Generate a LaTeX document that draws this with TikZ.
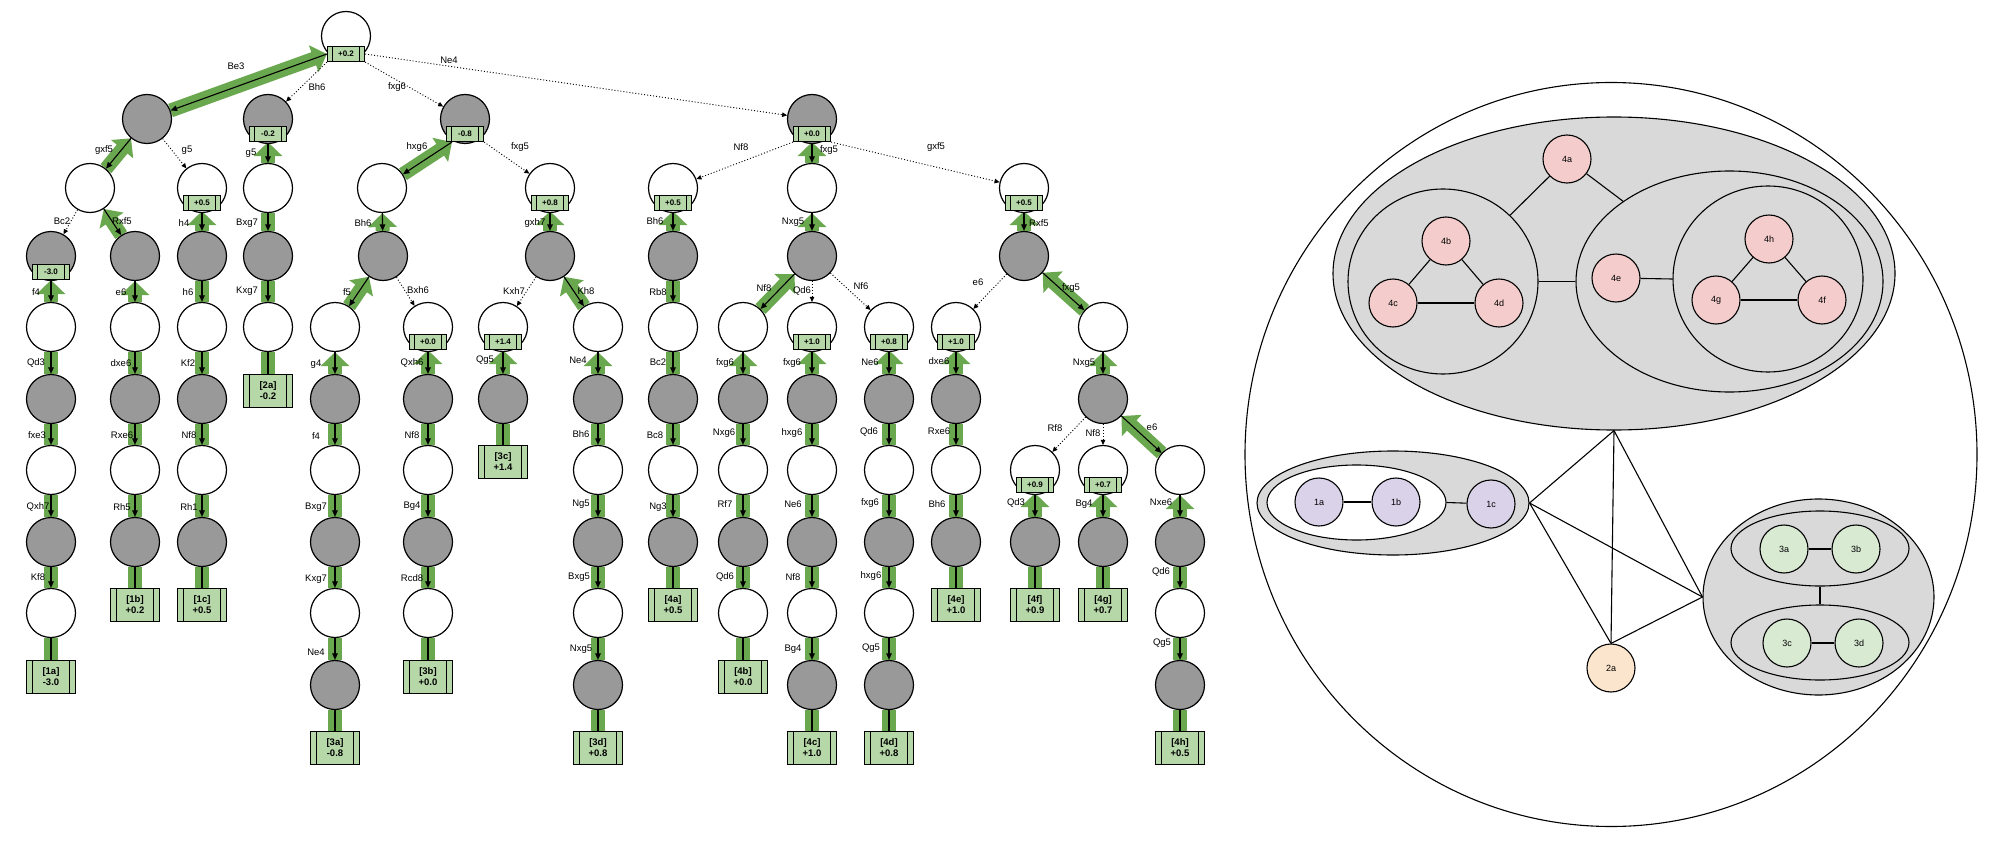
\documentclass[tikz,border=0pt]{standalone}
\usepackage{fontspec}
\setmainfont{Liberation Sans}
\usetikzlibrary{arrows.meta,shapes.geometric,calc}
\pgfdeclarelayer{bglayer}
\pgfdeclarelayer{bandlayer}
\pgfdeclarelayer{arrowlayer}
\pgfsetlayers{bglayer,bandlayer,arrowlayer,main}
\definecolor{pvgreen}{HTML}{6AA84F}
\definecolor{boxgreen}{HTML}{B6D7A8}
\definecolor{nodegray}{HTML}{999999}
\definecolor{grpgray}{HTML}{D9D9D9}
\definecolor{pinkc}{HTML}{F4CCCC}
\definecolor{purplec}{HTML}{D9D2E9}
\definecolor{peachc}{HTML}{FCE5CD}
\definecolor{greenc}{HTML}{D9EAD3}
\tikzset{
 wn/.style={circle,draw,line width=1.2pt,fill=white,minimum size=49pt,inner sep=0pt},
 gn/.style={wn,fill=nodegray},
 vb/.style={rectangle,draw,line width=1.2pt,fill=boxgreen,minimum width=37pt,minimum height=15pt,inner sep=0pt,
   font=\bfseries\fontsize{8}{9}\selectfont,
   path picture={\draw[line width=1pt] ([xshift=5pt]path picture bounding box.north west) -- ([xshift=5pt]path picture bounding box.south west)
      ([xshift=-5pt]path picture bounding box.north east) -- ([xshift=-5pt]path picture bounding box.south east);}},
 lb/.style={rectangle,draw,line width=1.2pt,fill=boxgreen,minimum width=49pt,minimum height=33pt,inner sep=0pt,align=center,
   font=\bfseries\fontsize{9.5}{11}\selectfont,
   path picture={\draw[line width=1pt] ([xshift=6pt]path picture bounding box.north west) -- ([xshift=6pt]path picture bounding box.south west)
      ([xshift=-6pt]path picture bounding box.north east) -- ([xshift=-6pt]path picture bounding box.south east);}},
 ml/.style={font=\fontsize{9.5}{11}\selectfont,inner sep=0pt},
 band/.style={draw=pvgreen,line width=14pt},
 bandh/.style={band,-{Triangle[width=28pt,length=14pt]}},
 bk/.style={draw=black,line width=1.1pt,-{Triangle[width=5.5pt,length=6.5pt]}},
 bkn/.style={draw=black,line width=1.1pt},
 dt/.style={draw=black,line width=0.9pt,dash pattern=on 1pt off 2pt,-{Triangle[width=4.5pt,length=5pt]}},
 rn/.style={circle,draw,line width=1.1pt,minimum size=48pt,inner sep=0pt,font=\fontsize{9}{10}\selectfont},
 grp/.style={ellipse,draw,line width=1.1pt,inner sep=0pt},
 gl/.style={draw,line width=1.1pt},
}
\newcommand\pvlink[2]{\begin{pgfonlayer}{bandlayer}\draw[band] (#1) -- (#2);\end{pgfonlayer}\begin{pgfonlayer}{arrowlayer}\draw[bk] (#1) -- (#2);\end{pgfonlayer}}
\newcommand\pvhead[2]{\begin{pgfonlayer}{bandlayer}\draw[bandh] (#2) -- (#1);\end{pgfonlayer}\begin{pgfonlayer}{arrowlayer}\draw[bk] (#1) -- (#2);\end{pgfonlayer}}
\newcommand\pvleaf[2]{\begin{pgfonlayer}{bandlayer}\draw[band] (#1) -- (#2);\end{pgfonlayer}\begin{pgfonlayer}{arrowlayer}\draw[bkn] (#1) -- (#2);\end{pgfonlayer}}
\newcommand\dotmove[2]{\begin{pgfonlayer}{arrowlayer}\draw[dt] (#1) -- (#2);\end{pgfonlayer}}
\newcounter{labc}
\newcommand\mlab[3]{\stepcounter{labc}\node[ml] (lab\arabic{labc}) at (#1,#2) {#3};}
\begin{document}
\begin{tikzpicture}[x=1pt,y=-1pt]
\begin{pgfonlayer}{bglayer}
\fill[white] (0,0) rectangle (2000,848);
\end{pgfonlayer}
\useasboundingbox (0,0) rectangle (2000,848);
% ---------- tree nodes ----------
\node[wn] (R) at (346,36) {};
\node[vb] (rb) at (346,54) {+0.2};
\node[gn] (A) at (147,119) {};
\node[gn] (B) at (268,119) {};  \node[vb] (bb) at (268,134) {-0.2};
\node[gn] (C) at (465,119) {};  \node[vb] (cb) at (465,134) {-0.8};
\node[gn] (D) at (812,119) {};  \node[vb] (db) at (812,134) {+0.0};
\node[wn] (A1) at (90,188) {};
\node[wn] (A2) at (202,188) {}; \node[vb] (a2b) at (202,203) {+0.5};
\node[wn] (B1) at (268,188) {};
\node[wn] (C1) at (382,188) {};
\node[wn] (C2) at (550,188) {}; \node[vb] (c2b) at (550,203) {+0.8};
\node[wn] (D1) at (673,188) {}; \node[vb] (d1b) at (673,203) {+0.5};
\node[wn] (D2) at (812,188) {};
\node[wn] (D3) at (1024,188) {}; \node[vb] (d3b) at (1024,203) {+0.5};
\node[gn] (A1a) at (51,256) {}; \node[vb] (a1ab) at (51,272) {-3.0};
\node[gn] (A1b) at (135,256) {};
\node[gn] (A2a) at (202,256) {};
\node[gn] (B1a) at (268,256) {};
\node[gn] (C1a) at (383,256) {};
\node[gn] (C2a) at (550,256) {};
\node[gn] (D1a) at (673,256) {};
\node[gn] (D2a) at (812,256) {};
\node[gn] (D3a) at (1024,256) {};
% level 4
\node[wn] (a4) at (51,327) {};
\node[wn] (b4) at (135,327) {};
\node[wn] (c4) at (202,327) {};
\node[wn] (d4) at (268,327) {};
\node[wn] (e4) at (335,327) {};
\node[wn] (f4) at (428,327) {}; \node[vb] (f4b) at (428,342) {+0.0};
\node[wn] (g4) at (503,327) {}; \node[vb] (g4b) at (503,342) {+1.4};
\node[wn] (h4) at (598,327) {};
\node[wn] (i4) at (673,327) {};
\node[wn] (j4) at (743,327) {};
\node[wn] (k4) at (812,327) {}; \node[vb] (k4b) at (812,342) {+1.0};
\node[wn] (l4) at (889,327) {}; \node[vb] (l4b) at (889,342) {+0.8};
\node[wn] (m4) at (956,327) {}; \node[vb] (m4b) at (956,342) {+1.0};
\node[wn] (n4) at (1103,327) {};
% level 5
\node[gn] (a5) at (51,399) {};
\node[gn] (b5) at (135,399) {};
\node[gn] (c5) at (202,399) {};
\node[lb] (d5) at (268,391) {[2a]\\-0.2};
\node[gn] (e5) at (335,399) {};
\node[gn] (f5) at (428,399) {};
\node[gn] (g5) at (503,399) {};
\node[gn] (h5) at (598,399) {};
\node[gn] (i5) at (673,399) {};
\node[gn] (j5) at (743,399) {};
\node[gn] (k5) at (812,399) {};
\node[gn] (l5) at (889,399) {};
\node[gn] (m5) at (956,399) {};
\node[gn] (n5) at (1103,399) {};
% level 6
\node[wn] (a6) at (51,470) {};
\node[wn] (b6) at (135,470) {};
\node[wn] (c6) at (202,470) {};
\node[wn] (e6) at (335,470) {};
\node[wn] (f6) at (428,470) {};
\node[lb] (g6) at (503,462) {[3c]\\+1.4};
\node[wn] (h6) at (598,470) {};
\node[wn] (i6) at (673,470) {};
\node[wn] (j6) at (743,470) {};
\node[wn] (k6) at (812,470) {};
\node[wn] (l6) at (889,470) {};
\node[wn] (m6) at (956,470) {};
\node[wn] (n6a) at (1035,470) {}; \node[vb] (n6ab) at (1035,485) {+0.9};
\node[wn] (n6b) at (1103,470) {}; \node[vb] (n6bb) at (1103,485) {+0.7};
\node[wn] (n6c) at (1180,470) {};
% level 7
\node[gn] (a7) at (51,542) {};
\node[gn] (b7) at (135,542) {};
\node[gn] (c7) at (202,542) {};
\node[gn] (e7) at (335,542) {};
\node[gn] (f7) at (428,542) {};
\node[gn] (h7) at (598,542) {};
\node[gn] (i7) at (673,542) {};
\node[gn] (j7) at (743,542) {};
\node[gn] (k7) at (812,542) {};
\node[gn] (l7) at (889,542) {};
\node[gn] (m7) at (956,542) {};
\node[gn] (n7a) at (1035,542) {};
\node[gn] (n7b) at (1103,542) {};
\node[gn] (n7c) at (1180,542) {};
% level 8
\node[wn] (a8) at (51,613) {};
\node[lb] (b8) at (135,605) {[1b]\\+0.2};
\node[lb] (c8) at (202,605) {[1c]\\+0.5};
\node[wn] (e8) at (335,613) {};
\node[wn] (f8) at (428,613) {};
\node[wn] (h8) at (598,613) {};
\node[lb] (i8) at (673,605) {[4a]\\+0.5};
\node[wn] (j8) at (743,613) {};
\node[wn] (k8) at (812,613) {};
\node[wn] (l8) at (889,613) {};
\node[lb] (m8) at (956,605) {[4e]\\+1.0};
\node[lb] (n8a) at (1035,605) {[4f]\\+0.9};
\node[lb] (n8b) at (1103,605) {[4g]\\+0.7};
\node[wn] (n8c) at (1180,613) {};
% level 9
\node[lb] (a9) at (51,677) {[1a]\\-3.0};
\node[gn] (e9) at (335,685) {};
\node[lb] (f9) at (428,677) {[3b]\\+0.0};
\node[gn] (h9) at (598,685) {};
\node[lb] (j9) at (743,677) {[4b]\\+0.0};
\node[gn] (k9) at (812,685) {};
\node[gn] (l9) at (889,685) {};
\node[gn] (n9c) at (1180,685) {};
% level 10
\node[lb] (e10) at (335,748) {[3a]\\-0.8};
\node[lb] (h10) at (598,748) {[3d]\\+0.8};
\node[lb] (k10) at (812,748) {[4c]\\+1.0};
\node[lb] (l10) at (889,748) {[4d]\\+0.8};
\node[lb] (n10c) at (1180,748) {[4h]\\+0.5};
% ---------- tree edges ----------
\pvhead{rb.west}{A}
\dotmove{rb.south west}{B}
\dotmove{rb.south east}{C}
\dotmove{rb.east}{D}
\pvhead{A}{A1}
\dotmove{A}{A2}
\pvhead{bb.south}{B1}
\pvhead{[xshift=6pt]cb.south west}{C1}
\dotmove{cb.south east}{C2}
\dotmove{db.south west}{D1}
\pvhead{db.south}{D2}
\dotmove{db.south east}{D3}
\dotmove{A1}{A1a}
\pvhead{A1}{A1b}
\pvhead{a2b.south}{A2a}
\pvlink{B1}{B1a}
\pvhead{C1}{C1a}
\pvhead{c2b.south}{C2a}
\pvhead{d1b.south}{D1a}
\pvhead{D2}{D2a}
\pvhead{d3b.south}{D3a}
\pvhead{a1ab.south}{a4}
\pvhead{A1b}{b4}
\pvlink{A2a}{c4}
\pvlink{B1a}{d4}
\pvhead{C1a}{e4}
\dotmove{C1a}{f4}
\dotmove{C2a}{g4}
\pvhead{C2a}{h4}
\pvlink{D1a}{i4}
\pvhead{D2a}{j4}
\dotmove{D2a}{k4}
\dotmove{D2a}{l4}
\dotmove{D3a}{m4}
\pvhead{D3a}{n4}
\pvlink{a4}{a5} \pvlink{b4}{b5} \pvlink{c4}{c5} \pvleaf{d4}{d5}
\pvhead{e4}{e5} \pvhead{f4b.south}{f5} \pvhead{g4b.south}{g5} \pvhead{h4}{h5}
\pvlink{i4}{i5} \pvhead{j4}{j5} \pvhead{k4b.south}{k5} \pvhead{l4b.south}{l5}
\pvhead{m4b.south}{m5} \pvhead{n4}{n5}
\pvlink{a5}{a6} \pvlink{b5}{b6} \pvlink{c5}{c6} \pvlink{e5}{e6} \pvlink{f5}{f6}
\pvleaf{g5}{g6} \pvlink{h5}{h6} \pvlink{i5}{i6} \pvlink{j5}{j6} \pvlink{k5}{k6}
\pvlink{l5}{l6} \pvlink{m5}{m6}
\dotmove{n5}{n6a} \dotmove{n5}{n6b} \pvhead{n5}{n6c}
\pvlink{a6}{a7} \pvlink{b6}{b7} \pvlink{c6}{c7} \pvlink{e6}{e7} \pvlink{f6}{f7}
\pvlink{h6}{h7} \pvlink{i6}{i7} \pvlink{j6}{j7} \pvlink{k6}{k7} \pvlink{l6}{l7}
\pvlink{m6}{m7}
\pvhead{n6ab.south}{n7a} \pvhead{n6bb.south}{n7b} \pvhead{n6c}{n7c}
\pvlink{a7}{a8} \pvleaf{b7}{b8} \pvleaf{c7}{c8} \pvlink{e7}{e8} \pvlink{f7}{f8}
\pvlink{h7}{h8} \pvleaf{i7}{i8} \pvlink{j7}{j8} \pvlink{k7}{k8} \pvlink{l7}{l8}
\pvleaf{m7}{m8} \pvleaf{n7a}{n8a} \pvleaf{n7b}{n8b} \pvlink{n7c}{n8c}
\pvleaf{a8}{a9} \pvlink{e8}{e9} \pvleaf{f8}{f9} \pvlink{h8}{h9} \pvleaf{j8}{j9}
\pvlink{k8}{k9} \pvlink{l8}{l9} \pvlink{n8c}{n9c}
\pvleaf{e9}{e10} \pvleaf{h9}{h10} \pvleaf{k9}{k10} \pvleaf{l9}{l10} \pvleaf{n9c}{n10c}
% ---------- move labels ----------
\mlab{236}{66}{Be3} \mlab{317}{87}{Bh6} \mlab{397}{87}{fxg6} \mlab{449}{60}{Ne4}
\mlab{104}{150}{gxf5} \mlab{187}{150}{g5} \mlab{251}{153}{g5} \mlab{417}{147}{hxg6}
\mlab{520}{147}{fxg5} \mlab{741}{147}{Nf8} \mlab{829}{150}{fxg5} \mlab{936}{147}{gxf5}
\mlab{62}{221}{Bc2} \mlab{122}{221}{Rxf5} \mlab{184}{223}{h4} \mlab{247}{223}{Bxg7}
\mlab{363}{223}{Bh6} \mlab{535}{223}{gxh7} \mlab{655}{221}{Bh6} \mlab{793}{222}{Nxg5}
\mlab{1039}{223}{Rxf5}
\mlab{36}{292}{f4} \mlab{121}{292}{e6} \mlab{188}{292}{h6} \mlab{247}{291}{Kxg7}
\mlab{347}{292}{f5} \mlab{418}{290}{Bxh6} \mlab{514}{291}{Kxh7} \mlab{586}{291}{Kh8}
\mlab{658}{292}{Rb8} \mlab{764}{288}{Nf8} \mlab{802}{291}{Qd6} \mlab{861}{286}{Nf6}
\mlab{978}{282}{e6} \mlab{1071}{288}{fxg5}
\mlab{36}{363}{Qd3} \mlab{121}{363}{dxe6} \mlab{188}{363}{Kf2} \mlab{316}{364}{g4}
\mlab{412}{363}{Qxh6} \mlab{485}{360}{Qg5} \mlab{578}{360}{Ne4} \mlab{658}{362}{Bc2}
\mlab{725}{363}{fxg6} \mlab{792}{363}{fxg6} \mlab{870}{362}{Ne6} \mlab{939}{361}{dxe6}
\mlab{1084}{363}{Nxg5}
\mlab{37}{435}{fxe3} \mlab{122}{435}{Rxe6} \mlab{189}{435}{Nf8} \mlab{316}{436}{f4}
\mlab{412}{435}{Nf8} \mlab{581}{434}{Bh6} \mlab{655}{435}{Bc8} \mlab{724}{433}{Nxg6}
\mlab{792}{433}{hxg6} \mlab{869}{432}{Qd6} \mlab{939}{431}{Rxe6} \mlab{1055}{428}{Rf8}
\mlab{1093}{433}{Nf8} \mlab{1152}{427}{e6}
\mlab{38}{507}{Qxh7} \mlab{122}{507}{Rh5} \mlab{189}{507}{Rh1} \mlab{316}{507}{Bxg7}
\mlab{412}{506}{Bg4} \mlab{581}{504}{Ng5} \mlab{658}{507}{Ng3} \mlab{725}{504}{Rf7}
\mlab{793}{504}{Ne6} \mlab{870}{503}{fxg6} \mlab{937}{504}{Bh6} \mlab{1016}{503}{Qd3}
\mlab{1084}{504}{Bg4} \mlab{1161}{502}{Nxe6}
\mlab{38}{577}{Kf8} \mlab{316}{579}{Kxg7} \mlab{412}{578}{Rcd8} \mlab{579}{577}{Bxg5}
\mlab{725}{577}{Qd6} \mlab{793}{577}{Nf8} \mlab{871}{576}{hxg6} \mlab{1161}{572}{Qd6}
\mlab{316}{652}{Ne4} \mlab{581}{649}{Nxg5} \mlab{793}{649}{Bg4} \mlab{871}{648}{Qg5}
\mlab{1162}{643}{Qg5}
% ---------- right panel ----------
\node[grp,minimum width=732pt,minimum height=744pt] (world) at (1611,454.5) {};
\node[grp,fill=grpgray,minimum width=562pt,minimum height=313pt] (g4) at (1614,273.5) {};
\node[grp,fill=grpgray,minimum width=190pt,minimum height=185pt] (g4L) at (1443,281.5) {};
\node[grp,fill=grpgray,minimum width=307pt,minimum height=221pt] (g4R) at (1729.5,281.5) {};
\node[grp,fill=grpgray,minimum width=190pt,minimum height=186pt] (g4fgh) at (1768,279) {};
\node[rn,fill=pinkc] (n4a) at (1567,159) {4a};
\node[rn,fill=pinkc] (n4b) at (1446,241) {4b};
\node[rn,fill=pinkc] (n4c) at (1393,303) {4c};
\node[rn,fill=pinkc] (n4d) at (1499,303) {4d};
\node[rn,fill=pinkc] (n4e) at (1616,278) {4e};
\node[rn,fill=pinkc] (n4h) at (1769,239) {4h};
\node[rn,fill=pinkc] (n4g) at (1716,300) {4g};
\node[rn,fill=pinkc] (n4f) at (1822,300) {4f};
\node[grp,fill=grpgray,minimum width=272pt,minimum height=104pt] (g1) at (1393,503) {};
\node[grp,fill=white,minimum width=179pt,minimum height=75pt] (g1in) at (1356.5,502.5) {};
\node[rn,fill=purplec] (n1a) at (1319,502) {1a};
\node[rn,fill=purplec] (n1b) at (1396,502) {1b};
\node[rn,fill=purplec] (n1c) at (1491,504) {1c};
\node[rn,fill=peachc] (n2a) at (1611,668) {2a};
\node[grp,fill=grpgray,minimum width=231pt,minimum height=196pt] (g3) at (1818.5,597) {};
\node[grp,fill=grpgray,minimum width=178pt,minimum height=75pt] (g3ab) at (1820,548.5) {};
\node[grp,fill=grpgray,minimum width=178pt,minimum height=75pt] (g3cd) at (1820,642.5) {};
\node[rn,fill=greenc] (n3a) at (1784,549) {3a};
\node[rn,fill=greenc] (n3b) at (1856,549) {3b};
\node[rn,fill=greenc] (n3c) at (1787,643) {3c};
\node[rn,fill=greenc] (n3d) at (1859,643) {3d};
\draw[gl] (n4a) -- (g4L);
\draw[gl] (n4a) -- (g4R);
\draw[gl] (g4L.east) -- (g4R.west);
\draw[gl] (n4e) -- (g4fgh.west);
\draw[gl] (n4b) -- (n4c);
\draw[gl] (n4b) -- (n4d);
\draw[gl] (n4c) -- (n4d);
\draw[gl] (n4h) -- (n4g);
\draw[gl] (n4h) -- (n4f);
\draw[gl] (n4g) -- (n4f);
\draw[gl] (n1a) -- (n1b);
\draw[gl] (g1in.east) -- (n1c);
\draw[gl] (n3a) -- (n3b);
\draw[gl] (n3c) -- (n3d);
\draw[gl] (g3ab.south) -- (g3cd.north);
\draw[gl] (g4.south) -- (g1.east);
\draw[gl] (g4.south) -- (n2a.north);
\draw[gl] (g4.south) -- (g3.west);
\draw[gl] (g1.east) -- (n2a.north);
\draw[gl] (g1.east) -- (g3.west);
\draw[gl] (n2a.north) -- (g3.west);
\end{tikzpicture}
\end{document}
